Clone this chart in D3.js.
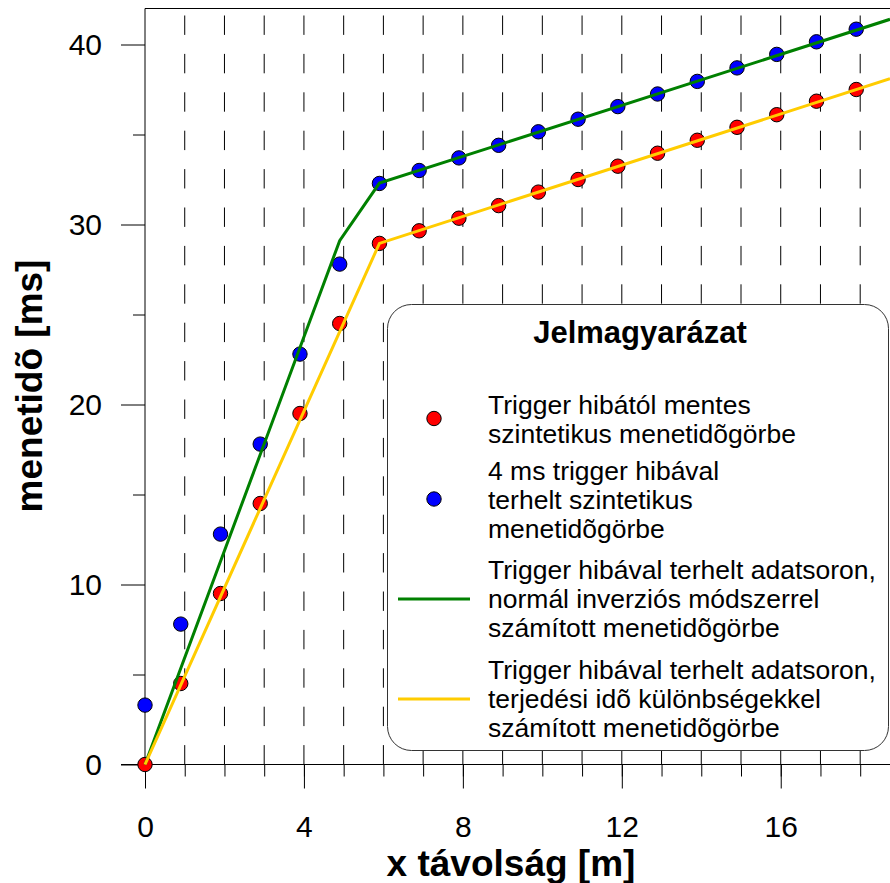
<!DOCTYPE html>
<html>
<head>
<meta charset="utf-8">
<script src="https://cdn.jsdelivr.net/npm/d3@7"></script>
<style>
  html, body { margin: 0; padding: 0; background: #fff; }
  svg { display: block; font-family: "Liberation Sans", Arial, sans-serif; }
</style>
</head>
<body>
<svg id="chart" width="890" height="883"></svg>
<script>
// Geophone distances [m] of the synthetic travel-time picks
const distance = [0, 0.9, 1.9, 2.9, 3.9, 4.9, 5.9, 6.9, 7.9, 8.9, 9.9,
                  10.9, 11.9, 12.9, 13.9, 14.9, 15.9, 16.9, 17.9];
// Trigger-error-free synthetic travel times [ms]
const timeClean = [0, 4.5, 9.5, 14.5, 19.5, 24.5, 28.95, 29.65, 30.35, 31.05, 31.8,
                   32.5, 33.24, 33.96, 34.68, 35.4, 36.1, 36.85, 37.5];
// Synthetic travel times with a 4 ms trigger error [ms]
const timeTrigger = [3.3, 7.8, 12.8, 17.8, 22.8, 27.8, 32.28, 33.0, 33.7, 34.4, 35.15,
                     35.85, 36.55, 37.25, 37.95, 38.7, 39.45, 40.15, 40.85];
// Travel-time curve from normal inversion (breakpoints)
const inversionX = [0, 4.9, 5.9, 18.75];
const inversionT = [0, 29.1, 32.3, 41.4];
// Travel-time curve from propagation-time differences (breakpoints)
const differenceX = [0, 5.9, 18.75];
const differenceT = [0, 28.95, 38.1];

const xMajorTicks = [0, 4, 8, 12, 16];
const xMinorTicks = d3.range(0, 19);
const yMajorTicks = [0, 10, 20, 30, 40];
const yMinorTicks = [5, 15, 25, 35];
const gridX = d3.range(1, 19);

const legendTitle = "Jelmagyarázat";
const legendLabels = [
  ["Trigger hibától mentes", "szintetikus menetidõgörbe"],
  ["4 ms trigger hibával", "terhelt szintetikus", "menetidõgörbe"],
  ["Trigger hibával terhelt adatsoron,", "normál inverziós módszerrel", "számított menetidõgörbe"],
  ["Trigger hibával terhelt adatsoron,", "terjedési idõ különbségekkel", "számított menetidõgörbe"]
];

const svg = d3.select("#chart");
const x = d3.scaleLinear().domain([0, 18.75]).range([145, 890]);
const y = d3.scaleLinear().domain([0, 42]).range([764.5, 8.5]);

// dashed vertical grid
svg.append("g").selectAll("line").data(gridX).join("line")
  .attr("x1", d => x(d)).attr("x2", d => x(d))
  .attr("y1", y(0)).attr("y2", y(42))
  .attr("stroke", "#000").attr("stroke-width", 1)
  .attr("stroke-dasharray", "19.4,19");

// frame: top line, left axis, bottom axis line
svg.append("line").attr("x1", x(0)).attr("x2", 890).attr("y1", y(42)).attr("y2", y(42))
  .attr("stroke", "#000");
svg.append("line").attr("x1", x(0)).attr("x2", x(0)).attr("y1", y(42)).attr("y2", y(0))
  .attr("stroke", "#000");
svg.append("line").attr("x1", 121).attr("x2", 890).attr("y1", y(0)).attr("y2", y(0))
  .attr("stroke", "#000");

function styleAxis(g) {
  g.select(".domain").remove();
  g.selectAll(".tick line").attr("stroke", "#000");
  g.selectAll(".tick text").attr("fill", "#000")
    .style("font-size", "30px").style("font-family", "'Liberation Sans', Arial, sans-serif");
}

svg.append("g").attr("transform", `translate(${x(0)},0)`)
  .call(d3.axisLeft(y).tickValues(yMinorTicks).tickSize(12).tickFormat(""))
  .call(styleAxis);
svg.append("g").attr("transform", `translate(${x(0)},0)`)
  .call(d3.axisLeft(y).tickValues(yMajorTicks).tickSize(24).tickPadding(19))
  .call(styleAxis);
svg.append("g").attr("transform", `translate(0,${y(0)})`)
  .call(d3.axisBottom(x).tickValues(xMinorTicks).tickSize(12).tickFormat(""))
  .call(styleAxis);
svg.append("g").attr("transform", `translate(0,${y(0)})`)
  .call(d3.axisBottom(x).tickValues(xMajorTicks).tickSize(24).tickPadding(27))
  .call(styleAxis);

// axis titles
svg.append("text").attr("x", 511).attr("y", 876)
  .attr("text-anchor", "middle").style("font-size", "37px").style("font-weight", "bold")
  .text("x távolság [m]");
svg.append("text").attr("transform", "translate(42,386) rotate(-90)")
  .attr("text-anchor", "middle").style("font-size", "37px").style("font-weight", "bold")
  .text("menetidõ [ms]");

// data points
const pointsClean = distance.map((d, i) => [d, timeClean[i]]);
const pointsTrigger = distance.map((d, i) => [d, timeTrigger[i]]);
svg.append("g").selectAll("circle").data(pointsClean).join("circle")
  .attr("cx", d => x(d[0])).attr("cy", d => y(d[1])).attr("r", 7.2)
  .attr("fill", "#ff0000").attr("stroke", "#000").attr("stroke-width", 1);
svg.append("g").selectAll("circle").data(pointsTrigger).join("circle")
  .attr("cx", d => x(d[0])).attr("cy", d => y(d[1])).attr("r", 7.2)
  .attr("fill", "#0000ff").attr("stroke", "#000").attr("stroke-width", 1);

// computed travel-time curves
const line = d3.line().x(d => x(d[0])).y(d => y(d[1]));
svg.append("path").datum(inversionX.map((d, i) => [d, inversionT[i]]))
  .attr("d", line).attr("fill", "none").attr("stroke", "#008000").attr("stroke-width", 3);
svg.append("path").datum(differenceX.map((d, i) => [d, differenceT[i]]))
  .attr("d", line).attr("fill", "none").attr("stroke", "#ffcc00").attr("stroke-width", 3);

// legend
const lg = svg.append("g");
lg.append("rect").attr("x", 387.5).attr("y", 304.5).attr("width", 501).attr("height", 446)
  .attr("rx", 24).attr("ry", 24).attr("fill", "#fff").attr("stroke", "#333").attr("stroke-width", 1);
lg.append("text").attr("x", 640).attr("y", 343).attr("text-anchor", "middle")
  .style("font-size", "31px").style("font-weight", "bold").text(legendTitle);

const groupBaselines = [414, 480, 579, 679];
const lineStep = 29;
const symbolKinds = [
  { type: "circle", color: "#ff0000" },
  { type: "circle", color: "#0000ff" },
  { type: "line", color: "#008000" },
  { type: "line", color: "#ffcc00" }
];
legendLabels.forEach((lines, i) => {
  const base = groupBaselines[i];
  const cy = base + (lines.length - 1) * lineStep / 2 - 10;
  const s = symbolKinds[i];
  if (s.type === "circle") {
    lg.append("circle").attr("cx", 434).attr("cy", cy).attr("r", 7.2)
      .attr("fill", s.color).attr("stroke", "#000").attr("stroke-width", 1);
  } else {
    lg.append("line").attr("x1", 398).attr("x2", 470).attr("y1", cy + 1).attr("y2", cy + 1)
      .attr("stroke", s.color).attr("stroke-width", 3);
  }
  lg.selectAll(null).data(lines).join("text")
    .attr("x", 488).attr("y", (d, j) => base + j * lineStep)
    .style("font-size", "26.5px").attr("fill", "#000").text(d => d);
});
</script>
</body>
</html>
